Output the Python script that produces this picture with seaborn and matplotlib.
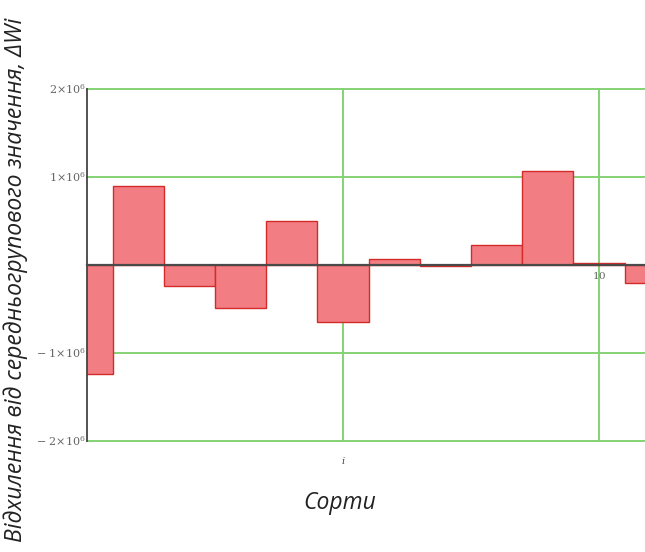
import matplotlib
matplotlib.use("Agg")
import matplotlib.pyplot as plt
import seaborn as sns
import pandas as pd

# Variety index and deviation from the group mean
sort_index = [0, 1, 2, 3, 4, 5, 6, 7, 8, 9, 10, 11]
deviation = [-1.24e6, 0.90e6, -0.24e6, -0.49e6, 0.50e6, -0.65e6,
             0.07e6, -0.01e6, 0.23e6, 1.07e6, 0.02e6, -0.20e6]

y_ticks = [-2e6, -1e6, 1e6, 2e6]
y_tick_labels = [r"$-\ 2{\times}10^6$", r"$-\ 1{\times}10^6$",
                 r"$1{\times}10^6$", r"$2{\times}10^6$"]
x_grid = [5, 10]
x_tick_labels = ["", r"$10$"]

sns.set_theme(style="white")
plt.rcParams["font.family"] = ["Open Sans", "DejaVu Sans"]
plt.rcParams["mathtext.fontset"] = "dejavuserif"

df = pd.DataFrame({"i": sort_index, "dw": deviation})

fig = plt.figure(figsize=(6.45, 5.52), dpi=100)
ax = fig.add_axes([0.1349, 0.2011, 0.8651, 0.6377])

sns.barplot(data=df, x="i", y="dw", native_scale=True, width=1.0,
            color="#f27e84", saturation=1, edgecolor="#d42a2a",
            linewidth=1.0, ax=ax, zorder=1)

# Spines first: moving a spine rebuilds that axis's ticks
for side in ["top", "right"]:
    ax.spines[side].set_visible(False)
ax.spines["left"].set_color("#444444")
ax.spines["left"].set_linewidth(1.3)
ax.spines["bottom"].set_position(("data", 0))
ax.spines["bottom"].set_color("#4a4a4a")
ax.spines["bottom"].set_linewidth(1.6)
ax.spines["bottom"].set_zorder(3)

ax.set_xlim(0, 10.9)
ax.set_ylim(-2e6, 2e6)

ax.set_yticks(y_ticks)
ax.set_yticklabels(y_tick_labels, fontsize=8, color="#666666")
ax.set_xticks(x_grid)
ax.set_xticklabels(x_tick_labels, fontsize=7.5, color="#666666")

ax.grid(True, color="#85d175", linewidth=1.4, zorder=0)
ax.set_axisbelow(True)
for gl in ax.get_ygridlines():
    gl.set_clip_on(False)

ax.tick_params(axis="y", length=0, pad=1)
ax.tick_params(axis="x", length=3, width=1, color="#444444", pad=3,
               direction="inout")

ax.set_xlabel("")
ax.set_ylabel("")

fig.text(0.533, 1 - 462 / 552, r"$i$", fontsize=7,
         color="#444444", ha="center", va="center")
fig.text(0.527, 1 - 503 / 552, "Сорти", fontsize=16.5, style="italic",
         color="#222222", ha="center", va="center")
fig.text(0.024, 0.493, "Відхилення від середньогрупового значення, ΔWi",
         fontsize=16.5, style="italic", color="#222222", rotation=90,
         ha="center", va="center")

fig.savefig("out.png", dpi=100, facecolor="white")
